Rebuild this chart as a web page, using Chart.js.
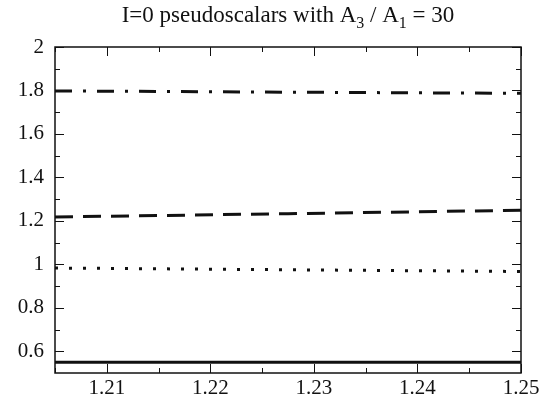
<!DOCTYPE html>
<html>
<head>
<meta charset="utf-8">
<script src="https://cdn.jsdelivr.net/npm/chart.js@4/dist/chart.umd.min.js"></script>
<style>
  html, body { margin: 0; padding: 0; background: #fff; }
  #wrap { width: 554px; height: 407px; }
</style>
</head>
<body>
<div id="wrap"><canvas id="chart"></canvas></div>
<script>
"use strict";

// mass axis samples and curve values
var masses = [1.205, 1.2275, 1.25];
var solidLine = [0.55, 0.55, 0.55];
var dottedLine = [0.983, 0.975, 0.967];
var dashedLine = [1.218, 1.233, 1.249];
var dashDotLine = [1.798, 1.792, 1.787];

var xTicks = [1.21, 1.22, 1.23, 1.24, 1.25];
var yTicks = [0.6, 0.8, 1, 1.2, 1.4, 1.6, 1.8, 2];

var SERIF = "'Liberation Serif', 'Times New Roman', serif";

function points(ys) {
    return masses.map(function (x, i) {
        return { x: x, y: ys[i] };
    });
}

function series(ys, dash) {
    return {
        data: points(ys),
        borderColor: "#111",
        borderWidth: 3,
        borderDash: dash,
        borderCapStyle: "butt",
        pointRadius: 0,
        fill: false,
        tension: 0,
    };
}

function plainLabel(value) {
    return String(value);
}

// title with subscripts, drawn piece by piece
var titlePlugin = {
    id: "subTitle",
    afterDraw: function (chart) {
        var ctx = chart.ctx;
        var parts = [
            ["I=0 pseudoscalars with A", false],
            ["3", true],
            [" / A", false],
            ["1", true],
            [" = 30", false],
        ];
        var big = "23px " + SERIF;
        var small = "16px " + SERIF;
        ctx.save();
        ctx.fillStyle = "#111";
        ctx.textBaseline = "alphabetic";
        var total = 0;
        parts.forEach(function (p) {
            ctx.font = p[1] ? small : big;
            total += ctx.measureText(p[0]).width;
        });
        var area = chart.chartArea;
        var x = (area.left + area.right) / 2 - total / 2;
        var base = 22;
        parts.forEach(function (p) {
            ctx.font = p[1] ? small : big;
            ctx.fillText(p[0], x, p[1] ? base + 6 : base);
            x += ctx.measureText(p[0]).width;
        });
        ctx.restore();
    },
};

// frame plus inward major/minor ticks on all four sides
var framePlugin = {
    id: "frame",
    afterDatasetsDraw: function (chart) {
        var ctx = chart.ctx;
        var a = chart.chartArea;
        var xs = chart.scales.x;
        var ys = chart.scales.y;
        ctx.save();
        ctx.strokeStyle = "#111";
        ctx.lineWidth = 1.5;
        ctx.strokeRect(a.left, a.top, a.right - a.left, a.bottom - a.top);
        ctx.lineWidth = 1;
        ctx.beginPath();
        var i, v, px, len;
        for (i = 0; i <= 9; i++) {
            v = 1.205 + i * 0.005;
            px = Math.round(xs.getPixelForValue(v)) + 0.5;
            len = i % 2 === 1 ? 9 : 5;
            ctx.moveTo(px, a.bottom);
            ctx.lineTo(px, a.bottom - len);
            ctx.moveTo(px, a.top);
            ctx.lineTo(px, a.top + len);
        }
        for (i = 1; i <= 15; i++) {
            v = 0.5 + i * 0.1;
            px = Math.round(ys.getPixelForValue(v)) + 0.5;
            len = i % 2 === 1 ? 9 : 5;
            ctx.moveTo(a.left, px);
            ctx.lineTo(a.left + len, px);
            ctx.moveTo(a.right, px);
            ctx.lineTo(a.right - len, px);
        }
        ctx.stroke();
        ctx.restore();
    },
};

new Chart(document.getElementById("chart"), {
    type: "line",
    data: {
        datasets: [
            series(solidLine, []),
            series(dottedLine, [3, 11]),
            series(dashedLine, [18, 10]),
            series(dashDotLine, [17, 11, 3, 11]),
        ],
    },
    options: {
        responsive: true,
        maintainAspectRatio: false,
        animation: false,
        layout: {
            padding: { top: 47, right: 33, left: 0, bottom: 0 },
        },
        plugins: {
            legend: { display: false },
            title: { display: false },
            tooltip: { enabled: false },
        },
        scales: {
            x: {
                type: "linear",
                min: 1.205,
                max: 1.25,
                grid: { display: false, drawTicks: false },
                border: { display: false },
                afterBuildTicks: function (scale) {
                    scale.ticks = xTicks.map(function (v) {
                        return { value: v };
                    });
                },
                afterFit: function (scale) {
                    scale.height = 34;
                },
                ticks: {
                    color: "#111",
                    padding: 3,
                    maxRotation: 0,
                    callback: plainLabel,
                    font: { family: SERIF, size: 21 },
                },
            },
            y: {
                type: "linear",
                min: 0.5,
                max: 2,
                grid: { display: false, drawTicks: false },
                border: { display: false },
                afterBuildTicks: function (scale) {
                    scale.ticks = yTicks.map(function (v) {
                        return { value: v };
                    });
                },
                afterFit: function (scale) {
                    scale.width = 55;
                },
                ticks: {
                    color: "#111",
                    padding: 11,
                    callback: plainLabel,
                    font: { family: SERIF, size: 21 },
                },
            },
        },
    },
    plugins: [titlePlugin, framePlugin],
});
</script>
</body>
</html>
